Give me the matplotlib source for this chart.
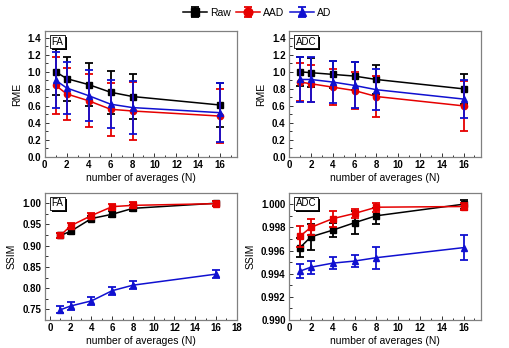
import matplotlib
matplotlib.use("Agg")
import matplotlib.pyplot as plt
import matplotlib.patheffects as pe
from matplotlib.ticker import MultipleLocator, FormatStrFormatter

plt.rcParams['font.family'] = ['Liberation Sans', 'DejaVu Sans']

N = [1, 2, 4, 6, 8, 16]
series_names = ["Raw", "AAD", "AD"]

# FA RME
fa_rme_raw = [1.00, 0.92, 0.85, 0.76, 0.71, 0.61]
fa_rme_raw_err = [0.27, 0.26, 0.25, 0.25, 0.26, 0.26]
fa_rme_aad = [0.84, 0.74, 0.66, 0.56, 0.54, 0.48]
fa_rme_aad_err = [0.33, 0.31, 0.31, 0.31, 0.34, 0.32]
fa_rme_ad = [0.90, 0.81, 0.72, 0.62, 0.58, 0.52]
fa_rme_ad_err = [0.33, 0.31, 0.30, 0.28, 0.31, 0.35]

# ADC RME
adc_rme_raw = [1.00, 0.99, 0.97, 0.95, 0.91, 0.80]
adc_rme_raw_err = [0.17, 0.17, 0.16, 0.16, 0.17, 0.18]
adc_rme_aad = [0.88, 0.86, 0.82, 0.78, 0.71, 0.60]
adc_rme_aad_err = [0.22, 0.22, 0.21, 0.22, 0.24, 0.29]
adc_rme_ad = [0.91, 0.91, 0.88, 0.84, 0.79, 0.68]
adc_rme_ad_err = [0.26, 0.26, 0.25, 0.27, 0.24, 0.22]

# FA SSIM
fa_ssim_raw = [0.924, 0.934, 0.964, 0.974, 0.988, 1.000]
fa_ssim_raw_err = [0.006, 0.006, 0.006, 0.007, 0.007, 0.006]
fa_ssim_aad = [0.924, 0.947, 0.971, 0.992, 0.995, 0.999]
fa_ssim_aad_err = [0.006, 0.006, 0.006, 0.007, 0.007, 0.006]
fa_ssim_ad = [0.749, 0.758, 0.770, 0.794, 0.807, 0.833]
fa_ssim_ad_err = [0.008, 0.009, 0.010, 0.009, 0.009, 0.009]

# ADC SSIM
adc_ssim_raw = [0.99625, 0.99718, 0.99776, 0.99840, 0.99900, 1.00000]
adc_ssim_raw_err = [0.0008, 0.0011, 0.0006, 0.0010, 0.0007, 0.0004]
adc_ssim_aad = [0.99724, 0.99800, 0.99875, 0.99920, 0.99974, 0.99980]
adc_ssim_aad_err = [0.0009, 0.0007, 0.0007, 0.0004, 0.0004, 0.0003]
adc_ssim_ad = [0.99422, 0.99456, 0.99491, 0.99509, 0.99538, 0.99625]
adc_ssim_ad_err = [0.0006, 0.00055, 0.0005, 0.0005, 0.00095, 0.00105]

colors = ['black', '#e60000', '#1010d0']

fig = plt.figure(figsize=(5.09, 3.48), dpi=100)

panels = [
    dict(pos=[0.088, 0.549, 0.377, 0.362], tag="FA", ylabel="RME",
         data=[(fa_rme_raw, fa_rme_raw_err), (fa_rme_aad, fa_rme_aad_err), (fa_rme_ad, fa_rme_ad_err)],
         xlim=(0, 17.5), ylim=(0, 1.48), xmaj=2, ymaj=0.2, ymin=0.1, fmt='%.1f', markers=['s', 'o', '^'], xmax_tick=16),
    dict(pos=[0.568, 0.549, 0.377, 0.362], tag="ADC", ylabel="RME",
         data=[(adc_rme_raw, adc_rme_raw_err), (adc_rme_aad, adc_rme_aad_err), (adc_rme_ad, adc_rme_ad_err)],
         xlim=(0, 17.6), ylim=(0, 1.48), xmaj=2, ymaj=0.2, ymin=0.1, fmt='%.1f', markers=['s', 'o', '^'], xmax_tick=16),
    dict(pos=[0.088, 0.0805, 0.377, 0.366], tag="FA", ylabel="SSIM",
         data=[(fa_ssim_raw, fa_ssim_raw_err), (fa_ssim_aad, fa_ssim_aad_err), (fa_ssim_ad, fa_ssim_ad_err)],
         xlim=(-0.5, 18), ylim=(0.725, 1.025), xmaj=2, ymaj=0.05, ymin=0.025, fmt='%.2f', markers=['s', 's', '^'], xmax_tick=18),
    dict(pos=[0.568, 0.0805, 0.377, 0.366], tag="ADC", ylabel="SSIM",
         data=[(adc_ssim_raw, adc_ssim_raw_err), (adc_ssim_aad, adc_ssim_aad_err), (adc_ssim_ad, adc_ssim_ad_err)],
         xlim=(0, 17.6), ylim=(0.990, 1.001), xmaj=2, ymaj=0.002, ymin=0.001, fmt='%.3f', markers=['s', 's', '^'], xmax_tick=16),
]

handles = []
for p in panels:
    ax = fig.add_axes(p['pos'])
    for i, (vals, errs) in enumerate(p['data']):
        h = ax.errorbar(N, vals, yerr=errs, color=colors[i], marker=p['markers'][i],
                        markersize=4.5, linewidth=1.1, elinewidth=1.3, capsize=3,
                        capthick=1.3, label=series_names[i], zorder=2 + i)
        if len(handles) < 3:
            handles.append(h)
    ax.set_xlim(*p['xlim'])
    ax.set_ylim(*p['ylim'])
    ax.set_xticks(list(range(0, p['xmax_tick'] + 1, p['xmaj'])))
    ax.xaxis.set_minor_locator(MultipleLocator(1))
    ax.yaxis.set_major_locator(MultipleLocator(p['ymaj']))
    ax.yaxis.set_minor_locator(MultipleLocator(p['ymin']))
    ax.yaxis.set_major_formatter(FormatStrFormatter(p['fmt']))
    ax.tick_params(which='both', direction='in', labelsize=7, width=0.7, colors='#333333',
                   labelcolor='black', pad=2.5)
    ax.tick_params(which='major', length=3)
    ax.tick_params(which='minor', length=1.8)
    for lab in ax.get_xticklabels() + ax.get_yticklabels():
        lab.set_fontweight('bold')
    for s in ax.spines.values():
        s.set_color('#808080')
        s.set_linewidth(0.9)
    ax.set_xlabel("number of averages (N)", fontsize=7.5, labelpad=2)
    ax.set_ylabel(p['ylabel'], fontsize=7.5, labelpad=4)
    t = ax.text(0.035, 0.955, p['tag'], transform=ax.transAxes, fontsize=7, va='top', ha='left',
                color='black', zorder=10,
                bbox=dict(boxstyle='square,pad=0.15', fc='white', ec='black', lw=0.6))
    t.get_bbox_patch().set_path_effects([
        pe.SimplePatchShadow(offset=(1.3, -1.3), shadow_rgbFace='black', alpha=1.0),
        pe.Normal()])

fig.legend(handles, series_names, loc='upper center', bbox_to_anchor=(0.505, 1.005), ncol=3,
           frameon=False, fontsize=7.5, handlelength=2.3, columnspacing=0.5, handletextpad=0.3,
           markerscale=1.4)

fig.savefig("out.png", dpi=100)
